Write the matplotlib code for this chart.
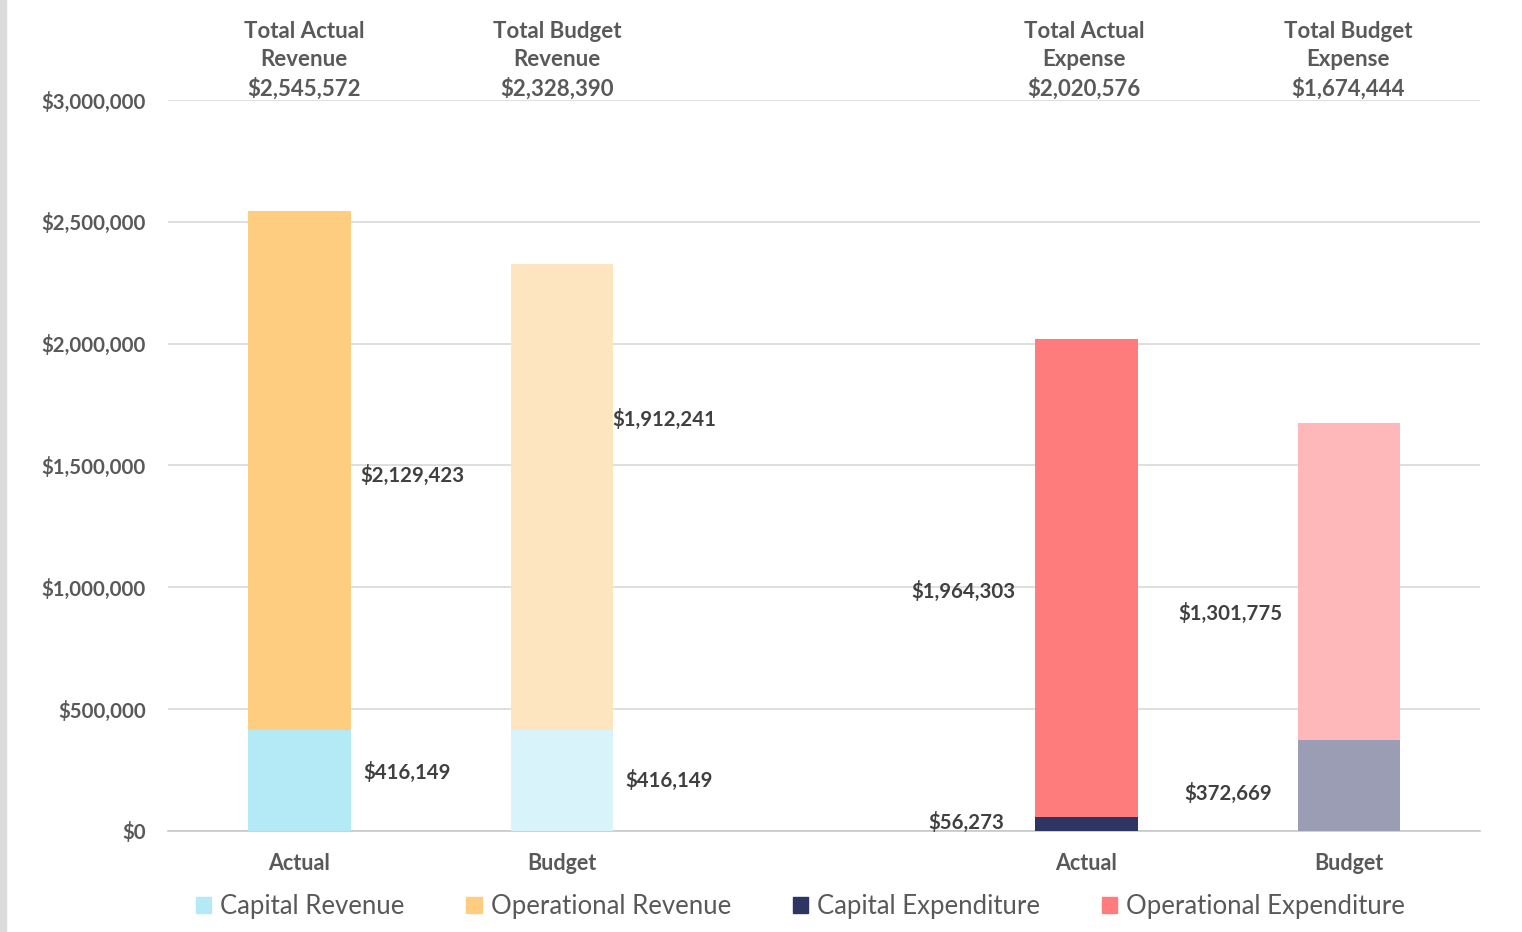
import matplotlib.pyplot as plt
from matplotlib.patches import Patch, Rectangle
from matplotlib.ticker import FuncFormatter

# data
categories = ['Actual', 'Budget', 'Actual', 'Budget']
positions = [0, 1, 3, 4]
capital = [416149, 416149, 56273, 372669]
operational = [2129423, 1912241, 1964303, 1301775]
headers = ['Total Actual\nRevenue', 'Total Budget\nRevenue', 'Total Actual\nExpense', 'Total Budget\nExpense']
legend_names = ['Capital Revenue', 'Operational Revenue', 'Capital Expenditure', 'Operational Expenditure']

cap_colors = ['#b3eaf5', '#d9f3fa', '#2e3563', '#9a9db4']
op_colors = ['#fecd80', '#fde5bf', '#ff7c7c', '#ffb8b9']

# label placement (x offset from bar, y in data units)
cap_lab = [(0.41, 242000), (0.41, 209000), (-0.46, 33000), (-0.46, 152000)]
op_lab = [(0.43, 1461000), (0.39, 1687000), (-0.47, 981000), (-0.45, 891000)]
head_dx = [0.017, -0.019, -0.01, -0.004]

plt.rcParams['font.family'] = ['Lato', 'DejaVu Sans']
txt = '#595959'
dark = '#404040'

fig = plt.figure(figsize=(15.22, 9.32), dpi=100)
ax = fig.add_axes([0.1105, 0.1084, 0.862, 0.7843])

w = 0.39
ax.bar(positions, capital, width=w, color=cap_colors, zorder=3)
ax.bar(positions, operational, width=w, bottom=capital, color=op_colors, zorder=3)

money = lambda v: '${:,.0f}'.format(v)
for i, p in enumerate(positions):
    dx, yy = cap_lab[i]
    ax.text(p + dx, yy, money(capital[i]), ha='center', va='center',
            fontsize=14.7, fontweight='bold', color=dark, zorder=4)
    dx, yy = op_lab[i]
    ax.text(p + dx, yy, money(operational[i]), ha='center', va='center',
            fontsize=14.7, fontweight='bold', color=dark, zorder=4)
    total = capital[i] + operational[i]
    ax.annotate(headers[i] + '\n' + money(total), xy=(p + head_dx[i], 3000000),
                xytext=(0, 0), textcoords='offset points', ha='center', va='bottom',
                fontsize=16, fontweight='bold', color=txt, linespacing=1.42,
                annotation_clip=False)

ax.set_xlim(-0.5, 4.5)
ax.set_ylim(0, 3000000)
ax.set_yticks(range(0, 3000001, 500000))
ax.yaxis.set_major_formatter(FuncFormatter(lambda v, pos: money(v)))
ax.set_xticks(positions)
ax.set_xticklabels(categories)
ax.tick_params(axis='y', length=0, pad=16, labelsize=14.7, labelcolor=txt)
ax.tick_params(axis='x', length=0, pad=16, labelsize=15.5, labelcolor=txt)
for lab in ax.get_xticklabels() + ax.get_yticklabels():
    lab.set_fontweight('bold')

ax.grid(axis='y', color='#d9d9d9', linewidth=1.2, zorder=0)
for s in ['top', 'right', 'left']:
    ax.spines[s].set_visible(False)
ax.spines['bottom'].set_color('#c8c8c8')
ax.spines['bottom'].set_linewidth(1.2)

handles = [Patch(color=c) for c in [cap_colors[0], op_colors[0], cap_colors[2], op_colors[2]]]
fig.legend(handles, legend_names, loc='center', bbox_to_anchor=(0.526, 0.027), ncol=4,
           frameon=False, fontsize=18.5, labelcolor=txt, handlelength=0.6, handleheight=0.6,
           handletextpad=0.35, columnspacing=2.4)

# light gray strip on left edge
fig.patches.append(Rectangle((0, 0), 0.004, 1, transform=fig.transFigure, color='#dcdcdc'))

fig.savefig('out.png', dpi=100)
